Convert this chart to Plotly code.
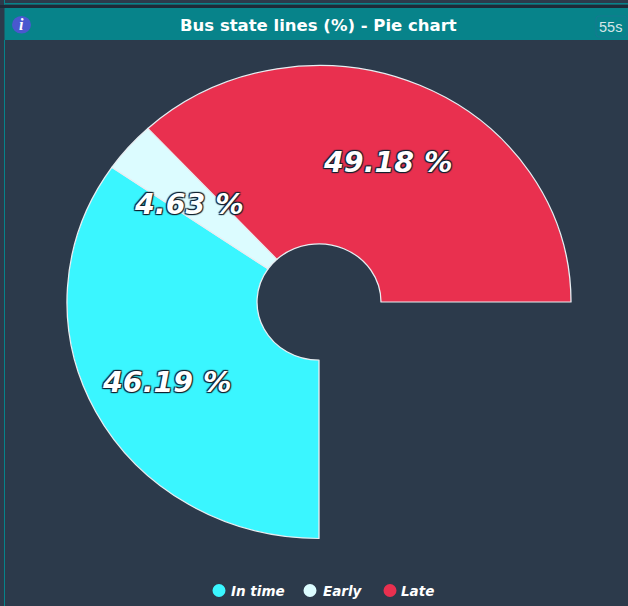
import math
import plotly.graph_objects as go

categories = ["In time", "Early", "Late"]
shares = [46.19, 4.63, 49.18]
colors = ["#3af6ff", "#dcfcff", "#e9304f"]
filler_share = 100 / 3  # the ring covers only 270 degrees
title = "Bus state lines (%) - Pie chart"
age_label = "55s"

W, H = 628, 606
CX, CY, R, RY = 319, 302, 252, 236.5
BG = "#2c3a4b"
TEAL = "#07838a"


def px(x):
    return x / W


def py(y):
    return 1 - y / H


fig = go.Figure()
fig.add_trace(go.Pie(
    labels=categories + [""],
    values=shares + [filler_share],
    sort=False,
    direction="clockwise",
    rotation=180,
    hole=0.246,
    textinfo="none",
    hoverinfo="label+value",
    showlegend=False,
    marker=dict(colors=colors + ["rgba(0,0,0,0)"],
                line=dict(color=["#e8eef2"] * 3 + ["rgba(0,0,0,0)"], width=1.3)),
    domain=dict(x=[px(CX - R), px(CX + R)], y=[py(CY + R), py(CY - R)]),
))


def text_at(x, y, text, **font):
    return dict(x=px(x), y=py(y), xref="paper", yref="paper", showarrow=False, text=text,
                xanchor="center", yanchor="middle", font=font)


# slice labels, placed from the data on a ring through the slices
total = sum(shares) + filler_share
angle = 180.0
label_r, label_ry = 172, 155
label_nudge_y = [9, 4, 3]
outline = "1px 1px 1px #10202e, -1px -1px 1px #10202e, 1px -1px 1px #10202e, -1px 1px 1px #10202e"
annotations = []
for share, nudge in zip(shares, label_nudge_y):
    sweep = share / total * 360
    a = math.radians(angle + sweep / 2)
    angle += sweep
    annotations.append(text_at(CX + label_r * math.sin(a), CY - label_ry * math.cos(a) + nudge,
                               f"{share:.2f} %", family="DejaVu Sans", size=28.5, color="white",
                               weight="bold", style="italic", shadow=outline))

annotations += [
    text_at(318, 25, title, family="DejaVu Sans", size=16.5, color="white", weight="bold"),
    text_at(610, 26.5, age_label, family="Liberation Sans", size=14.5, color="#d5e6e8"),
    text_at(21.5, 24.5, "<b><i>i</i></b>", family="Liberation Serif", size=16, color="white"),
]

shapes = [
    dict(type="rect", xref="paper", yref="paper", x0=px(0), x1=px(W), y0=py(0), y1=py(H),
         fillcolor=BG, line_width=0, layer="below"),
    dict(type="rect", xref="paper", yref="paper", x0=px(0), x1=px(W), y0=py(5), y1=py(8),
         fillcolor="#1f2a38", line_width=0, layer="below"),
    dict(type="rect", xref="paper", yref="paper", x0=px(4), x1=px(W), y0=py(3), y1=py(4.5),
         fillcolor=TEAL, line_width=0, layer="below"),
    dict(type="rect", xref="paper", yref="paper", x0=px(4), x1=px(5), y0=py(40), y1=py(H),
         fillcolor=TEAL, line_width=0, layer="below"),
    dict(type="rect", xref="paper", yref="paper", x0=px(4), x1=px(5), y0=py(0), y1=py(4.5),
         fillcolor=TEAL, line_width=0, layer="below"),
    dict(type="rect", xref="paper", yref="paper", x0=px(4.5), x1=px(W), y0=py(8), y1=py(40),
         fillcolor=TEAL, line_width=0, layer="below"),
    dict(type="path", xref="paper", yref="paper", layer="below", fillcolor="rgba(0,0,0,0)",
         line=dict(color="#167a90", width=1.2),
         path=(f"M {px(600)} {py(16)} L {px(623)} {py(16)} Q {px(627)} {py(16)} {px(627)} {py(20)} "
               f"L {px(627)} {py(33)} Q {px(627)} {py(37)} {px(623)} {py(37)} "
               f"L {px(600)} {py(37)} Q {px(596)} {py(37)} {px(596)} {py(33)} "
               f"L {px(596)} {py(20)} Q {px(596)} {py(16)} {px(600)} {py(16)} Z")),
    dict(type="circle", xref="paper", yref="paper", x0=px(12), x1=px(31), y0=py(16), y1=py(33.5),
         fillcolor="#4a58cf", line_width=0, layer="below"),
]

# legend row, built from the categories
legend_marker_x = [219, 310, 390]
legend_text_x = [257.5, 342.5, 417.5]
for name, color, mx, tx in zip(categories, colors, legend_marker_x, legend_text_x):
    shapes.append(dict(type="circle", xref="paper", yref="paper", x0=px(mx - 6.5), x1=px(mx + 6.5),
                       y0=py(584), y1=py(597), fillcolor=color, line_width=0, layer="above"))
    annotations.append(text_at(tx, 590.5, name, family="DejaVu Sans", size=13.5, color="white",
                               weight="bold", style="italic"))

fig.update_layout(
    width=W, height=H, margin=dict(l=0, r=0, t=0, b=0),
    paper_bgcolor=BG, plot_bgcolor=BG,
    shapes=shapes, annotations=annotations,
)

# the reference ring is slightly squashed vertically; margins removed so pixels line up
post = f"""
document.body.style.margin='0';
document.documentElement.style.overflow='hidden';
var gd=document.querySelector('.plotly-graph-div');
var p=gd.querySelector('.pielayer');
if(p)p.setAttribute('transform','translate(0 {CY}) scale(1 {RY/R}) translate(0 {-CY})');
"""
fig.write_html("out.html", post_script=post, config=dict(displayModeBar=False))
